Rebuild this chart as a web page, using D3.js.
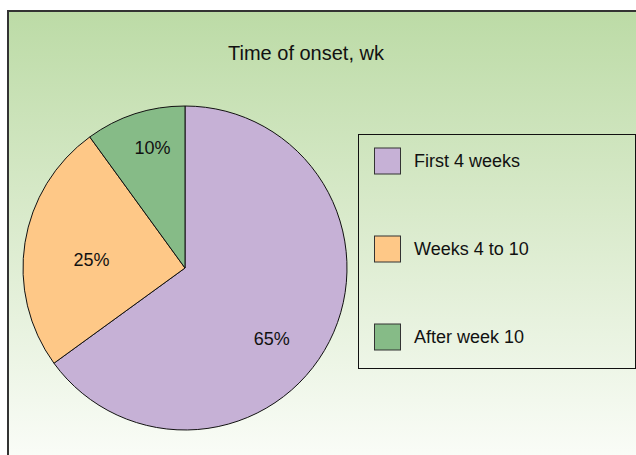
<!DOCTYPE html>
<html>
<head>
<meta charset="utf-8">
<script src="https://cdn.jsdelivr.net/npm/d3@7"></script>
<style>
  body { margin: 0; background: #fff; }
  svg { display: block; font-family: Arial, "Liberation Sans", Helvetica, sans-serif; }
</style>
</head>
<body>
<div id="chart"></div>
<script>
// data
const categories = ["First 4 weeks", "Weeks 4 to 10", "After week 10"];
const shares = [65, 25, 10];
const sliceLabels = ["65%", "25%", "10%"];
const colors = ["#c6b1d6", "#fec887", "#86bb87"];
const title = "Time of onset, wk";

const width = 636, height = 455;

const svg = d3.select("#chart").append("svg")
  .attr("width", width)
  .attr("height", height);

// background gradient panel
const defs = svg.append("defs");
const grad = defs.append("linearGradient")
  .attr("id", "bg").attr("x1", 0).attr("y1", 0).attr("x2", 0).attr("y2", 1);
grad.append("stop").attr("offset", "0%").attr("stop-color", "#bcdba6");
grad.append("stop").attr("offset", "45%").attr("stop-color", "#d9eacb");
grad.append("stop").attr("offset", "100%").attr("stop-color", "#fbfdf9");

svg.append("rect")
  .attr("x", 8).attr("y", 11)
  .attr("width", width).attr("height", height)
  .attr("fill", "url(#bg)")
  .attr("stroke", "#333")
  .attr("stroke-width", 2);

// title
svg.append("text")
  .attr("x", 306).attr("y", 60)
  .attr("text-anchor", "middle")
  .style("font-size", "20px")
  .attr("fill", "#111")
  .text(title);

// pie
const radius = 162;
const g = svg.append("g").attr("transform", "translate(185,268)");
const pie = d3.pie().sort(null).value(d => d);
const arc = d3.arc().outerRadius(radius).innerRadius(0);
const arcs = pie(shares);

g.selectAll("path.slice").data(arcs).enter().append("path")
  .attr("class", "slice")
  .attr("d", arc)
  .attr("fill", (d, i) => colors[i])
  .attr("stroke", "#111")
  .attr("stroke-width", 1);

// label placement: fraction of radius + small angle nudge off the mid angle
const labelRadius = [0.69, 0.58, 0.77];
const labelNudge = [0.21, -0.07, 0.05];
g.selectAll("text.lbl").data(arcs).enter().append("text")
  .attr("class", "lbl")
  .attr("transform", (d, i) => {
    const r = radius * labelRadius[i];
    const a = (d.startAngle + d.endAngle) / 2 + labelNudge[i];
    return `translate(${r * Math.sin(a)},${-r * Math.cos(a)})`;
  })
  .attr("text-anchor", "middle")
  .attr("dy", "0.35em")
  .style("font-size", "18px")
  .attr("fill", "#111")
  .text((d, i) => sliceLabels[i]);

// legend
const legend = svg.append("g");
legend.append("rect")
  .attr("x", 358.5).attr("y", 134.5)
  .attr("width", 277).attr("height", 234)
  .attr("fill", "none")
  .attr("stroke", "#111")
  .attr("stroke-width", 1);

const rowY = d3.scalePoint().domain(categories).range([161, 337]);
const rows = legend.selectAll("g.row").data(categories).enter().append("g")
  .attr("class", "row")
  .attr("transform", d => `translate(0,${rowY(d)})`);
rows.append("rect")
  .attr("x", 374.5).attr("y", -13)
  .attr("width", 26).attr("height", 26)
  .attr("fill", (d, i) => colors[i])
  .attr("stroke", "#333")
  .attr("stroke-width", 1);
rows.append("text")
  .attr("x", 414).attr("y", 6)
  .style("font-size", "18px")
  .attr("fill", "#111")
  .text(d => d);
</script>
</body>
</html>
